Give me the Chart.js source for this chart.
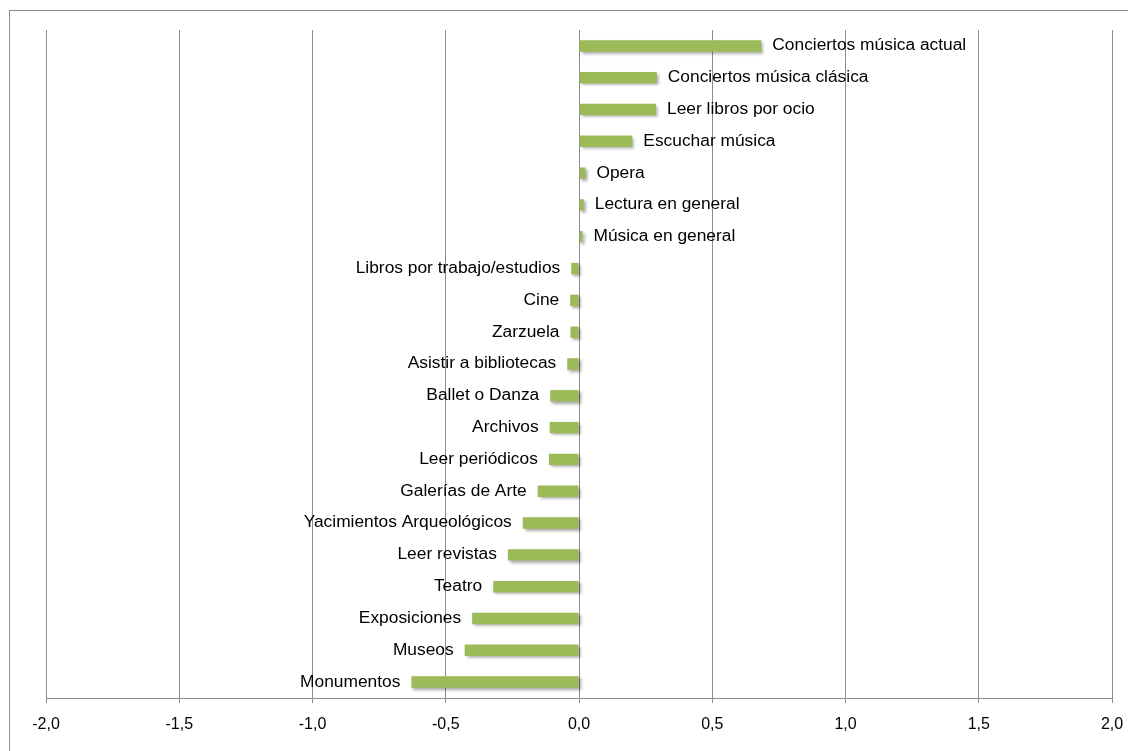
<!DOCTYPE html>
<html>
<head>
<meta charset="utf-8">
<title>Actividades culturales</title>
<script src="https://cdn.jsdelivr.net/npm/chart.js@4.4.1/dist/chart.umd.min.js"></script>
<style>
  html, body { margin: 0; padding: 0; background: #fff; overflow: hidden; }
  #wrap { position: relative; width: 1128px; height: 751px; }
  #frame { position: absolute; left: 9px; top: 10px; width: 1200px; height: 800px;
           border: 1px solid #8c8c8c; box-sizing: border-box; }
  #chart { position: absolute; left: 0; top: 0; }
</style>
</head>
<body>
<div id="wrap">
  <div id="frame"></div>
  <canvas id="chart" width="1128" height="751"></canvas>
</div>
<script>
/* categories, top to bottom */
var ACTIVIDADES = [
  'Conciertos música actual',
  'Conciertos música clásica',
  'Leer libros por ocio',
  'Escuchar música',
  'Opera',
  'Lectura en general',
  'Música en general',
  'Libros por trabajo/estudios',
  'Cine',
  'Zarzuela',
  'Asistir a bibliotecas',
  'Ballet o Danza',
  'Archivos',
  'Leer periódicos',
  'Galerías de Arte',
  'Yacimientos Arqueológicos',
  'Leer revistas',
  'Teatro',
  'Exposiciones',
  'Museos',
  'Monumentos'
];

var VALORES = [
  0.684, 0.292, 0.289, 0.200, 0.024, 0.018, 0.013,
  -0.029, -0.033, -0.032, -0.044, -0.108, -0.110, -0.113,
  -0.155, -0.211, -0.267, -0.322, -0.401, -0.429, -0.629
];

var X_TICKS = [-2, -1.5, -1, -0.5, 0, 0.5, 1, 1.5, 2];
var X_TICK_LABELS = ['-2,0', '-1,5', '-1,0', '-0,5', '0,0', '0,5', '1,0', '1,5', '2,0'];

var FONT = "'Liberation Sans', Arial, sans-serif";
var GRID = '#8c8c8c';

/* soft drop shadow under the bars, then the name of each activity at the bar end */
var barDecor = {
  id: 'barDecor',
  beforeDatasetsDraw: function (chart) {
    var ctx = chart.ctx;
    ctx.save();
    ctx.shadowColor = 'rgba(0,0,0,0.35)';
    ctx.shadowBlur = 3;
    ctx.shadowOffsetX = 2;
    ctx.shadowOffsetY = 2;
  },
  afterDatasetsDraw: function (chart) {
    var ctx = chart.ctx;
    ctx.restore();
    var meta = chart.getDatasetMeta(0);
    meta.data.forEach(function (bar, i) {
      var pos = VALORES[i] >= 0;
      ctx.save();
      ctx.font = '16px ' + FONT;
      ctx.fillStyle = '#000';
      ctx.textBaseline = 'middle';
      ctx.textAlign = pos ? 'left' : 'right';
      ctx.translate(pos ? bar.x + 11 : bar.x - 11, bar.y);
      ctx.scale(1.085, 1);   // labels run a little wide
      ctx.fillText(ACTIVIDADES[i], 0, 0);
      ctx.restore();
    });
  }
};

new Chart(document.getElementById('chart').getContext('2d'), {
  type: 'bar',
  data: {
    labels: ACTIVIDADES,
    datasets: [{
      data: VALORES,
      backgroundColor: '#9bbb59',
      borderWidth: 0,
      barPercentage: 0.36,
      categoryPercentage: 1
    }]
  },
  options: {
    indexAxis: 'y',
    responsive: false,
    animation: false,
    layout: { padding: { left: 46, right: 16, top: 30, bottom: 0 } },
    plugins: { legend: { display: false }, tooltip: { enabled: false } },
    scales: {
      x: {
        min: -2,
        max: 2,
        afterBuildTicks: function (scale) {
          scale.ticks = X_TICKS.map(function (v) { return { value: v }; });
        },
        afterFit: function (scale) {
          scale.height = 53;
          scale.paddingLeft = 0;
          scale.paddingRight = 0;
        },
        grid: { color: GRID, lineWidth: 1, tickLength: 5 },
        border: { color: GRID, width: 1 },
        ticks: {
          padding: 12,
          color: '#000',
          autoSkip: false,
          maxRotation: 0,
          font: { family: FONT, size: 16 },
          callback: function (v, i) { return X_TICK_LABELS[i]; }
        }
      },
      y: { display: false }
    }
  },
  plugins: [barDecor]
});
</script>
</body>
</html>
